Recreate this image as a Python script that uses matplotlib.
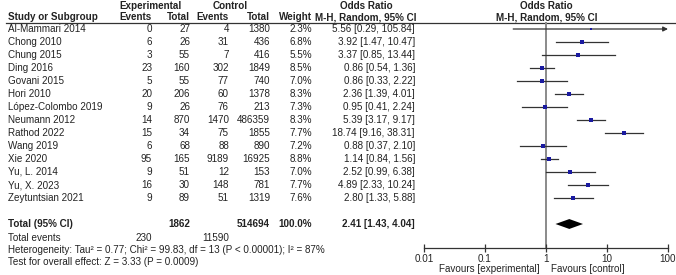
import matplotlib
matplotlib.use("Agg")
import matplotlib.pyplot as plt

plt.rcParams["font.family"] = ["Liberation Sans", "DejaVu Sans"]

# data
studies = [
    "Al-Mammari 2014", "Chong 2010", "Chung 2015", "Ding 2016", "Govani 2015",
    "Hori 2010", "López-Colombo 2019", "Neumann 2012", "Rathod 2022",
    "Wang 2019", "Xie 2020", "Yu, L. 2014", "Yu, X. 2023", "Zeytuntsian 2021",
]
exp_events = [0, 6, 3, 23, 5, 20, 9, 14, 15, 6, 95, 9, 16, 9]
exp_total = [27, 26, 55, 160, 55, 206, 26, 870, 34, 68, 165, 51, 30, 89]
ctrl_events = [4, 31, 7, 302, 77, 60, 76, 1470, 75, 88, 9189, 12, 148, 51]
ctrl_total = [1380, 436, 416, 1849, 740, 1378, 213, 486359, 1855, 890, 16925, 153, 781, 1319]
weights = [2.3, 6.8, 5.5, 8.5, 7.0, 8.3, 7.3, 8.3, 7.7, 7.2, 8.8, 7.0, 7.7, 7.6]
or_est = [5.56, 3.92, 3.37, 0.86, 0.86, 2.36, 0.95, 5.39, 18.74, 0.88, 1.14, 2.52, 4.89, 2.80]
or_lo = [0.29, 1.47, 0.85, 0.54, 0.33, 1.39, 0.41, 3.17, 9.16, 0.37, 0.84, 0.99, 2.33, 1.33]
or_hi = [105.84, 10.47, 13.44, 1.36, 2.22, 4.01, 2.24, 9.17, 38.31, 2.10, 1.56, 6.38, 10.24, 5.88]

total_exp = 1862
total_ctrl = 514694
total_exp_events = 230
total_ctrl_events = 11590
pooled = (2.41, 1.43, 4.04)
het_text = "Heterogeneity: Tau² = 0.77; Chi² = 99.83, df = 13 (P < 0.00001); I² = 87%"
test_text = "Test for overall effect: Z = 3.33 (P = 0.0009)"
ticks = [0.01, 0.1, 1, 10, 100]
tick_labels = ["0.01", "0.1", "1", "10", "100"]

W, H = 676, 275
TXT = "#222222"
FS = 7.1

fig = plt.figure(figsize=(W / 100, H / 100), dpi=100)

# table part drawn in pixel coordinates
tab = fig.add_axes([0, 0, 1, 1])
tab.set_xlim(0, W)
tab.set_ylim(H, 0)
tab.axis("off")


def row_y(i):
    return 29 + 13 * i


def put(x, y, s, ha="right", bold=False, size=FS):
    tab.text(x, y, s, ha=ha, va="center", fontsize=size, color=TXT,
             fontweight="bold" if bold else "normal")


# headers
put(150, 6, "Experimental", ha="center", bold=True)
put(230, 6, "Control", ha="center", bold=True)
put(366, 6, "Odds Ratio", ha="center", bold=True)
put(546, 6, "Odds Ratio", ha="center", bold=True)
put(8, 17, "Study or Subgroup", ha="left", bold=True)
put(152, 17, "Events", bold=True)
put(190, 17, "Total", bold=True)
put(229, 17, "Events", bold=True)
put(270, 17, "Total", bold=True)
put(312, 17, "Weight", bold=True)
put(366, 17, "M-H, Random, 95% CI", ha="center", bold=True)
put(547, 17, "M-H, Random, 95% CI", ha="center", bold=True)
tab.plot([6, W], [23, 23], color="#333333", lw=0.9)

for i, name in enumerate(studies):
    y = row_y(i)
    put(8, y, name, ha="left")
    put(152, y, str(exp_events[i]))
    put(190, y, str(exp_total[i]))
    put(229, y, str(ctrl_events[i]))
    put(270, y, str(ctrl_total[i]))
    put(312, y, f"{weights[i]:.1f}%")
    put(415, y, f"{or_est[i]:.2f} [{or_lo[i]:.2f}, {or_hi[i]:.2f}]")

yt = row_y(15)
put(8, yt, "Total (95% CI)", ha="left", bold=True)
put(190, yt, str(total_exp), bold=True)
put(270, yt, str(total_ctrl), bold=True)
put(312, yt, "100.0%", bold=True)
put(415, yt, f"{pooled[0]:.2f} [{pooled[1]:.2f}, {pooled[2]:.2f}]", bold=True)

put(8, 238, "Total events", ha="left")
put(152, 238, str(total_exp_events))
put(229, 238, str(total_ctrl_events))
put(8, 250, het_text, ha="left")
put(8, 262, test_text, ha="left")

put(540, 269, "Favours [experimental]")
put(551, 269, "Favours [control]", ha="left")

# forest part
x0, x1 = 424, 668
ytop, ybot = 22, 248
ax = fig.add_axes([x0 / W, 1 - ybot / H, (x1 - x0) / W, (ybot - ytop) / H])
ax.set_xscale("log")
ax.set_xlim(0.01, 100)
ax.set_ylim((ybot - 29) / 13, (ytop - 29) / 13)
ax.patch.set_alpha(0)
for s in ["top", "left", "right"]:
    ax.spines[s].set_visible(False)
ax.spines["bottom"].set_linewidth(0.9)
ax.spines["bottom"].set_color("#333333")
ax.set_yticks([])
ax.set_xticks(ticks)
ax.set_xticklabels(tick_labels)
ax.minorticks_off()
ax.tick_params(axis="x", direction="inout", length=6, width=0.9,
               labelsize=FS, labelcolor=TXT, color="#333333", pad=1)

ax.axvline(1, color="#8a8a8a", lw=1.4, zorder=1)

for i in range(len(studies)):
    if or_hi[i] > 100:
        ax.annotate("", xy=(100, i), xytext=(or_lo[i], i),
                    arrowprops=dict(arrowstyle="-|>", color="#333333", lw=0.9,
                                    shrinkA=0, shrinkB=0, mutation_scale=7))
    else:
        ax.plot([or_lo[i], or_hi[i]], [i, i], color="#333333", lw=0.9, zorder=2)
    ax.scatter(or_est[i], i, marker="s", s=weights[i] * 0.9,
               color="#1a1aa0", zorder=3, linewidths=0)

ax.fill([pooled[1], pooled[0], pooled[2], pooled[0]],
        [15, 14.62, 15, 15.38], color="black", zorder=3, lw=0)

fig.savefig("out.png", dpi=100)
